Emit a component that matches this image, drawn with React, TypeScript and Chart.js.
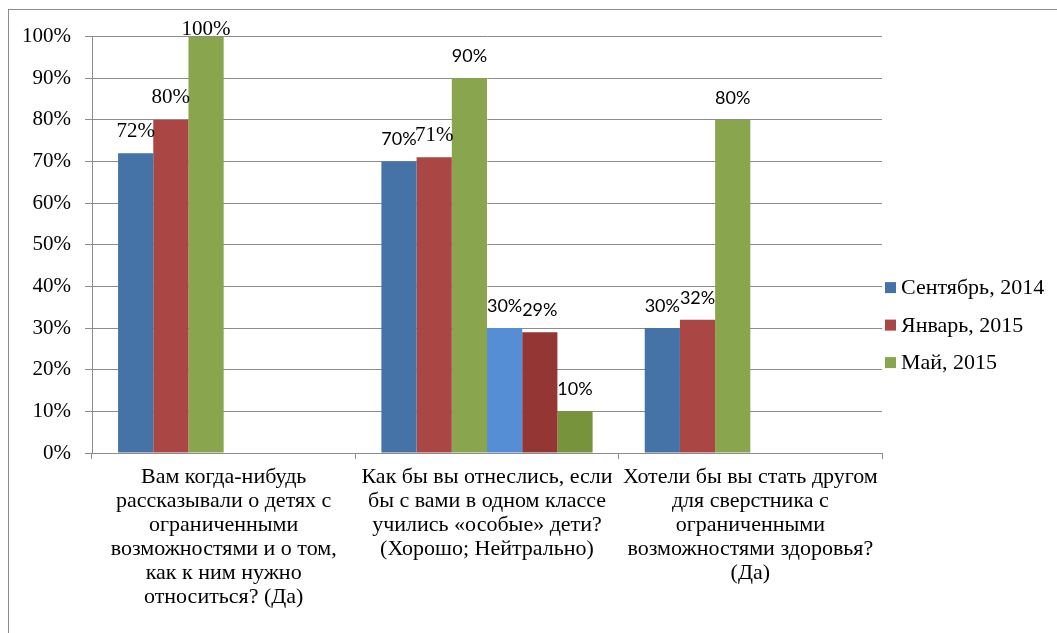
import React, { useEffect, useRef } from "react";
import { Chart, registerables } from "chart.js";

Chart.register(...registerables);

const categories: string[][] = [
  ["Вам когда-нибудь", "рассказывали о детях с", "ограниченными", "возможностями и о том,", "как к ним нужно", "относиться? (Да)"],
  ["Как бы вы отнеслись, если", "бы с вами в одном классе", "учились «особые» дети?", "(Хорошо; Нейтрально)"],
  ["Хотели бы вы стать другом", "для сверстника с", "ограниченными", "возможностями здоровья?", "(Да)"],
];

const seriesNames = ["Сентябрь, 2014", "Январь, 2015", "Май, 2015"];
const septValues: (number | null)[] = [72, 70, 30];
const janValues: (number | null)[] = [80, 71, 32];
const mayValues: (number | null)[] = [100, 90, 80];
const septNeutral: (number | null)[] = [null, 30, null];
const janNeutral: (number | null)[] = [null, 29, null];
const mayNeutral: (number | null)[] = [null, 10, null];

const yTicks = [0, 10, 20, 30, 40, 50, 60, 70, 80, 90, 100];

// labels drawn in serif font: [datasetIndex, pointIndex]
const serifLabels: [number, number][] = [[0, 0], [1, 0], [2, 0], [1, 1]];

const colors = ["#4572A7", "#AA4643", "#89A54E", "#558ED5", "#943634", "#77933C"];

const SERIF = "'Liberation Serif', 'Times New Roman', serif";
const SANS = "Lato, 'Open Sans', sans-serif";
const GRID = "#8c8c8c";

const labelPlugin = {
  id: "valueLabels",
  afterDatasetsDraw(chart: any) {
    const ctx = chart.ctx;
    const top = chart.chartArea.top;
    ctx.save();
    ctx.fillStyle = "#000";
    ctx.textAlign = "center";
    ctx.textBaseline = "middle";
    chart.data.datasets.forEach((ds: any, di: number) => {
      const meta = chart.getDatasetMeta(di);
      meta.data.forEach((el: any, i: number) => {
        const v = ds.data[i];
        if (v === null || v === undefined) return;
        const serif = serifLabels.some(([a, b]) => a === di && b === i);
        ctx.font = serif ? `21px ${SERIF}` : `18px ${SANS}`;
        const y = Math.max(el.y - 22, top - 7);
        ctx.fillText(v + "%", el.x, y);
      });
    });
    ctx.restore();
  },
};

const legendPlugin = {
  id: "sideLegend",
  afterDraw(chart: any) {
    const ctx = chart.ctx;
    const { right, top } = chart.chartArea;
    ctx.save();
    ctx.textAlign = "left";
    ctx.textBaseline = "middle";
    ctx.font = `22px ${SERIF}`;
    seriesNames.forEach((name, i) => {
      const cy = top + 251 + i * 37.5;
      ctx.fillStyle = colors[i];
      ctx.fillRect(right + 3, cy - 5.5, 11, 11);
      ctx.fillStyle = "#000";
      ctx.fillText(name, right + 19, cy + 1);
    });
    ctx.restore();
  },
};

export default function App() {
  const ref = useRef<HTMLCanvasElement | null>(null);

  useEffect(() => {
    document.documentElement.style.overflow = "hidden";
    if (!ref.current) return;
    const allData = [septValues, janValues, mayValues, septNeutral, janNeutral, mayNeutral];
    const chart = new Chart(ref.current, {
      type: "bar",
      data: {
        labels: categories,
        datasets: allData.map((d, i) => ({
          label: i < 3 ? seriesNames[i] : seriesNames[i - 3] + " (нейтрально)",
          data: d,
          backgroundColor: colors[i],
          borderWidth: 0,
          barPercentage: 1,
          categoryPercentage: 0.802,
        })),
      },
      options: {
        responsive: false,
        animation: false,
        events: [],
        layout: { padding: { top: 24, right: 175, left: 0, bottom: 0 } },
        plugins: {
          legend: { display: false },
          tooltip: { enabled: false },
          title: { display: false },
        },
        scales: {
          x: {
            grid: {
              offset: true,
              drawOnChartArea: false,
              drawTicks: true,
              tickLength: 6,
              color: GRID,
            },
            border: { color: GRID },
            ticks: {
              color: "#000",
              font: { family: SERIF, size: 22, lineHeight: "24px" },
              padding: 6,
              maxRotation: 0,
              autoSkip: false,
            },
            afterFit: (scale: any) => {
              scale.height = 180;
            },
          },
          y: {
            min: 0,
            max: 100,
            afterBuildTicks: (scale: any) => {
              scale.ticks = yTicks.map((v) => ({ value: v }));
            },
            grid: { color: GRID, tickLength: 7, drawTicks: true },
            border: { color: GRID },
            ticks: {
              color: "#000",
              font: { family: SERIF, size: 21 },
              padding: 14,
              callback: (v: any) => v + "%",
            },
            afterFit: (scale: any) => {
              scale.width = 83;
            },
          },
        },
      },
      plugins: [labelPlugin, legendPlugin],
    });
    return () => chart.destroy();
  }, []);

  return (
    <div
      style={{
        position: "absolute",
        top: 9,
        left: 8,
        width: 1049,
        height: 624,
        borderLeft: `1px solid ${GRID}`,
        borderTop: `1px solid ${GRID}`,
        boxSizing: "border-box",
        background: "#fff",
      }}
    >
      <canvas ref={ref} width={1048} height={623} style={{ display: "block" }} />
    </div>
  );
}
